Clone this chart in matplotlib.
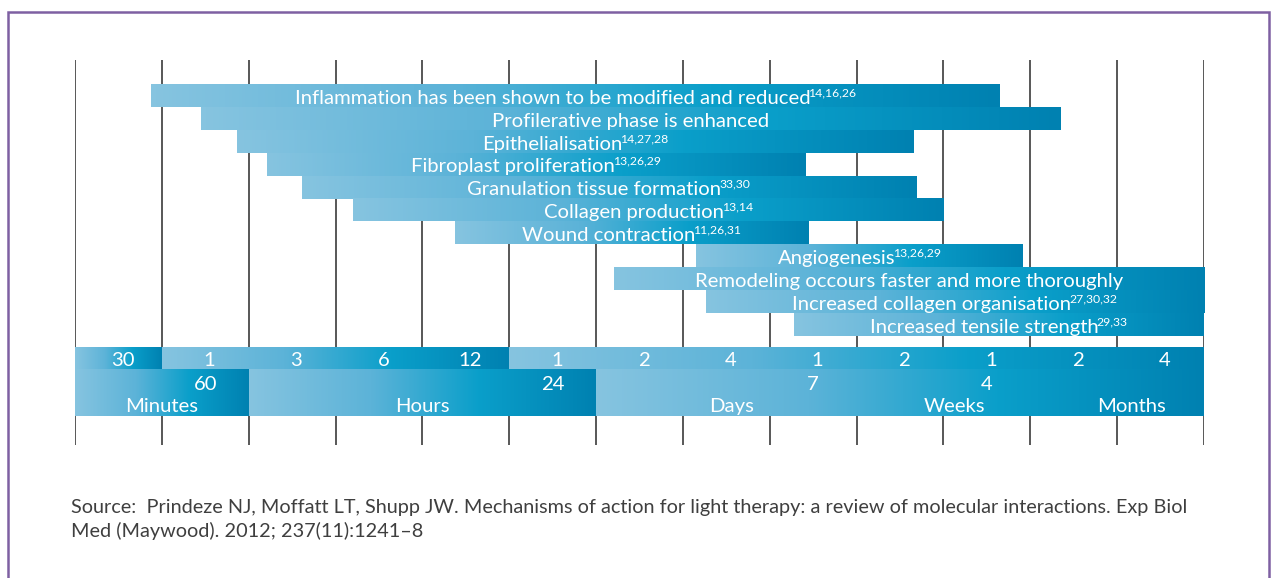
import numpy as np
import matplotlib
matplotlib.use("Agg")
import matplotlib.pyplot as plt
from matplotlib.colors import LinearSegmentedColormap
from matplotlib.patches import Rectangle

# ---------------- data ----------------
bar_labels = [
    "Inflammation has been shown to be modified and reduced",
    "Profilerative phase is enhanced",
    "Epithelialisation",
    "Fibroplast proliferation",
    "Granulation tissue formation",
    "Collagen production",
    "Wound contraction",
    "Angiogenesis",
    "Remodeling occours faster and more thoroughly",
    "Increased collagen organisation",
    "Increased tensile strength",
]
bar_refs = ["14,16,26", "", "14,27,28", "13,26,29", "33,30", "13,14",
            "11,26,31", "13,26,29", "", "27,30,32", "29,33"]
# start / end on the time scale (grid-interval units, 0 = 30 min ... 13 = end)
bar_starts = [0.875, 1.45, 1.865, 2.21, 2.61, 3.20, 4.375, 7.15, 6.205, 7.265, 8.28]
bar_ends = [10.65, 11.35, 9.66, 8.405, 9.68, 10.005, 8.45, 10.915, 13.0, 13.0, 13.0]

tick_labels = ["30", "1", "3", "6", "12", "1", "2", "4", "1", "2", "1", "2", "4"]
row1_bounds = [0, 1, 5, 13]
row2_bounds = [0, 2, 6, 13]
cum_labels = ["60", "24", "7", "4"]
cum_pos = [1.5, 5.5, 8.5, 10.5]
unit_labels = ["Minutes", "Hours", "Days", "Weeks", "Months"]
unit_pos = [1.0, 4.0, 7.56, 10.13, 12.16]

source_lines = [
    "Source:  Prindeze NJ, Moffatt LT, Shupp JW. Mechanisms of action for light therapy: a review of molecular interactions. Exp Biol",
    "Med (Maywood). 2012; 237(11):1241\u20138",
]

# ---------------- style ----------------
plt.rcParams["font.family"] = ["Lato", "DejaVu Sans"]
plt.rcParams["font.weight"] = "normal"

W, H = 1272, 578
fig = plt.figure(figsize=(W / 100, H / 100), dpi=100)
fig.patch.set_facecolor("white")

ax = fig.add_axes([75 / W, (H - 445) / H, 1129 / W, 385 / H])
ax.set_axis_off()

cmap = LinearSegmentedColormap.from_list(
    "grad", [(0.0, "#86C4E0"), (0.35, "#5CB3D8"), (0.66, "#0A9FCA"), (1.0, "#0081B1")])
grad = np.linspace(0, 1, 256).reshape(1, -1)

YMIN, YMAX = -1.05, 15.76
TXT = 14.6
SUP = 8.8

ax.set_xlim(0, 13)
ax.set_ylim(YMAX, YMIN)


def gbar(x0, x1, y0, y1):
    ax.imshow(grad, cmap=cmap, extent=(x0, x1, y1, y0), aspect="auto",
              interpolation="bilinear", zorder=2)


# grid lines
ax.vlines(np.arange(14), YMIN, YMAX, colors="#4a4a4a", lw=1.3, zorder=1)

# bars
renderer = fig.canvas.get_renderer()
for i, (lab, ref, s, e) in enumerate(zip(bar_labels, bar_refs, bar_starts, bar_ends)):
    gbar(s, e, i, i + 1)
    ax.set_xlim(0, 13)
    ax.set_ylim(YMAX, YMIN)
    inv = ax.transData.inverted()
    y = i + 0.86
    t_main = ax.text(0, y, lab, ha="left", va="baseline",
                     color="white", fontsize=TXT, zorder=3)
    w_main = t_main.get_window_extent(renderer).width
    w_sup = 0.0
    t_sup = None
    if ref:
        t_sup = ax.text(0, y - 0.33, ref, ha="left", va="baseline",
                        color="white", fontsize=SUP, zorder=3)
        w_sup = t_sup.get_window_extent(renderer).width - 2
    cx_px, cy_px = ax.transData.transform(((s + e) / 2, y))
    left_px = cx_px - (w_main + w_sup) / 2
    t_main.set_x(inv.transform((left_px, cy_px))[0])
    if t_sup is not None:
        t_sup.set_x(inv.transform((left_px + w_main - 2, cy_px))[0])

# timeline row 1
r1_top, r1_bot = 11.5, 12.45
for a, b in zip(row1_bounds[:-1], row1_bounds[1:]):
    gbar(a, b, r1_top, r1_bot)
for k, t in enumerate(tick_labels):
    ax.text(k + 0.55, 12.31, t, ha="center", va="baseline", color="white",
            fontsize=TXT, zorder=3)

# timeline row 2
r2_bot = 14.5
for a, b in zip(row2_bounds[:-1], row2_bounds[1:]):
    gbar(a, b, r1_bot, r2_bot)
for p, t in zip(cum_pos, cum_labels):
    ax.text(p, 13.34, t, ha="center", va="baseline", color="white",
            fontsize=TXT, zorder=3)
for p, t in zip(unit_pos, unit_labels):
    ax.text(p, 14.30, t, ha="center", va="baseline", color="white",
            fontsize=TXT, zorder=3)

ax.set_xlim(0, 13)
ax.set_ylim(YMAX, YMIN)

# source text
fig.text(71 / W, 1 - 507 / H, source_lines[0], ha="left", va="center",
         color="#3f3f3f", fontsize=14.3)
fig.text(71 / W, 1 - 531 / H, source_lines[1], ha="left", va="center",
         color="#3f3f3f", fontsize=14.3)

# purple frame
fig.add_artist(Rectangle((8 / W, -0.1), (1269 - 8) / W, 1.1 - 12 / H,
                         transform=fig.transFigure, fill=False,
                         edgecolor="#7E60A2", lw=1.8))

fig.savefig("out.png", dpi=100, facecolor="white")
